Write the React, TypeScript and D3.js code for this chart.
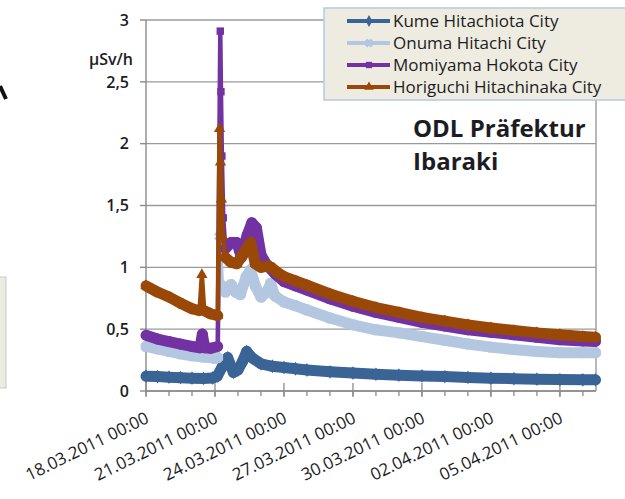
import React from "react";
import * as d3 from "d3";

const SERIES_NAMES = [
  "Kume Hitachiota City",
  "Onuma Hitachi City",
  "Momiyama Hokota City",
  "Horiguchi Hitachinaka City",
];
const SERIES_COLORS = ["#3a6496", "#b4c7e0", "#7232a2", "#9a4808"];

// [days since 18.03.2011 00:00, µSv/h]
const kume: [number, number][] = [
  [0, 0.12], [0.5, 0.117], [1, 0.112], [1.5, 0.108], [2, 0.104], [2.5, 0.102], [2.9, 0.105],
  [3.1, 0.12], [3.3, 0.19], [3.55, 0.27], [3.8, 0.15], [4.0, 0.17], [4.2, 0.24], [4.38, 0.32],
  [4.6, 0.27], [5.0, 0.22], [5.5, 0.2], [6, 0.19], [6.5, 0.18], [7, 0.17], [8, 0.155], [9, 0.145],
  [10, 0.135], [11, 0.128], [12, 0.122], [13, 0.117], [14, 0.11], [15, 0.104], [16, 0.1],
  [17, 0.096], [18, 0.092], [19, 0.09], [19.55, 0.09],
];
const onuma: [number, number][] = [
  [0, 0.36], [0.5, 0.34], [1, 0.32], [1.5, 0.3], [2, 0.285], [2.5, 0.275], [3.0, 0.265],
  [3.12, 0.27], [3.2, 1.25], [3.3, 0.85], [3.45, 0.8], [3.7, 0.86], [3.9, 0.8], [4.1, 0.78],
  [4.35, 0.92], [4.55, 0.98], [4.75, 0.85], [5.0, 0.76], [5.25, 0.8], [5.42, 0.87], [5.6, 0.77],
  [6, 0.72], [6.5, 0.69], [7, 0.655], [8, 0.59], [9, 0.535], [10, 0.495], [11, 0.47], [12, 0.44],
  [13, 0.41], [14, 0.38], [15, 0.355], [16, 0.335], [17, 0.32], [18, 0.31], [19, 0.31], [19.55, 0.31],
];
const momiyama: [number, number][] = [
  [0, 0.45], [0.5, 0.42], [1, 0.4], [1.5, 0.38], [2, 0.36], [2.35, 0.35], [2.45, 0.46], [2.55, 0.35],
  [2.8, 0.345], [3.12, 0.36], [3.23, 2.91], [3.26, 2.42], [3.3, 1.9], [3.36, 1.4], [3.45, 1.15],
  [3.7, 1.2], [3.95, 1.2], [4.15, 1.08], [4.4, 1.26], [4.6, 1.36], [4.8, 1.32], [5.0, 1.1],
  [5.25, 1.02], [5.6, 0.95], [6, 0.885], [6.5, 0.85], [7, 0.815], [8, 0.745], [9, 0.685],
  [10, 0.635], [11, 0.595], [12, 0.555], [13, 0.525], [14, 0.495], [15, 0.475], [16, 0.455],
  [17, 0.435], [18, 0.415], [19, 0.405], [19.55, 0.4],
];
const horiguchi: [number, number][] = [
  [0, 0.85], [0.5, 0.8], [1, 0.76], [1.5, 0.71], [2, 0.665], [2.33, 0.65], [2.43, 0.94], [2.53, 0.65],
  [2.8, 0.625], [3.12, 0.61], [3.2, 2.12], [3.24, 1.85], [3.28, 1.55], [3.33, 1.25], [3.45, 1.08],
  [3.7, 1.04], [3.95, 1.03], [4.2, 1.1], [4.4, 1.16], [4.55, 1.2], [4.75, 1.03], [5.0, 1.0],
  [5.3, 1.01], [5.45, 1.0], [5.7, 0.96], [6, 0.925], [6.5, 0.89], [7, 0.855], [8, 0.785],
  [9, 0.725], [10, 0.675], [11, 0.635], [12, 0.595], [13, 0.565], [14, 0.535], [15, 0.51],
  [16, 0.49], [17, 0.47], [18, 0.455], [19, 0.44], [19.55, 0.435],
];
const SERIES_DATA = [kume, onuma, momiyama, horiguchi];
const SYMBOLS = [d3.symbolDiamond, d3.symbolCross, d3.symbolSquare, d3.symbolTriangle];

const Y_TICKS = [0, 0.5, 1, 1.5, 2, 2.5, 3];
const X_TICK_DAYS = [0, 3, 6, 9, 12, 15, 18];
const TITLE_LINES = ["ODL Präfektur", "Ibaraki"];
const Y_UNIT = "µSv/h";
const START = Date.UTC(2011, 2, 18);
const END_DAYS = 19.57;
const DAY = 86400000;

const toDate = (d: number) => new Date(START + d * DAY);
const locale = d3.formatLocale({ decimal: ",", thousands: ".", grouping: [3], currency: ["", "€"] });
const fmtY = locale.format("~g");
const fmtX = d3.utcFormat("%d.%m.%Y %H:%M");

const FONT = "'Open Sans', 'DejaVu Sans', sans-serif";
const TEXT = "#1c1c24";

export default function App() {
  const W = 625, H = 499;
  const left = 146, right = 596, top = 20, bottom = 391;
  const x = d3.scaleUtc().domain([toDate(0), toDate(END_DAYS)]).range([left, right]);
  const y = d3.scaleLinear().domain([0, 3]).range([bottom, top]);

  const majorTicks = X_TICK_DAYS.map(toDate);
  const minorTicks = d3.utcDay.range(toDate(0), toDate(END_DAYS));

  const line = d3.line<[number, number]>().x((d) => x(toDate(d[0]))).y((d) => y(d[1]));

  return (
    <svg width={W} height={H} style={{ position: "absolute", left: 0, top: 0, background: "#fff" }}
      fontFamily={FONT}>
      <rect x={0} y={0} width={W} height={H} fill="#fff" />
      {/* left-edge fragments */}
      <line x1={0} y1={86} x2={6} y2={99} stroke="#111" strokeWidth={4} />
      <rect x={-2} y={277} width={8} height={111} fill="#eeece1" stroke="#c9c9c9" strokeWidth={1} />

      {/* gridlines */}
      {Y_TICKS.map((t) => (
        <line key={t} x1={left} x2={right} y1={y(t)} y2={y(t)} stroke="#9a9a9a" strokeWidth={1.4} />
      ))}
      <line x1={right} x2={right} y1={top} y2={bottom} stroke="#9a9a9a" strokeWidth={1.4} />
      {/* y axis */}
      <line x1={left} x2={left} y1={top} y2={bottom + 1} stroke="#8a8a8a" strokeWidth={1.4} />
      {Y_TICKS.map((t) => (
        <g key={"yt" + t}>
          <line x1={left - 6} x2={left} y1={y(t)} y2={y(t)} stroke="#8a8a8a" strokeWidth={1.4} />
          <text x={129} y={y(t)} dy="0.36em" textAnchor="end" fontSize={16} fontWeight={600} fill={TEXT}>
            {fmtY(t)}
          </text>
        </g>
      ))}
      <text x={133} y={65} textAnchor="end" fontSize={16} fontWeight={600} fill={TEXT}>{Y_UNIT}</text>

      {/* x axis */}
      <line x1={left} x2={right} y1={bottom} y2={bottom} stroke="#8a8a8a" strokeWidth={1.4} />
      {minorTicks.map((d, i) => (
        <line key={"mn" + i} x1={x(d)} x2={x(d)} y1={bottom} y2={bottom + 5} stroke="#8a8a8a" strokeWidth={1.3} />
      ))}
      {majorTicks.map((d, i) => (
        <line key={"mj" + i} x1={x(d)} x2={x(d)} y1={bottom - 8} y2={bottom + 6} stroke="#8a8a8a" strokeWidth={1.3} />
      ))}
      {majorTicks.map((d, i) => (
        <text key={"xl" + i} transform={`translate(${x(d) + 4},${bottom + 31}) rotate(-26)`}
          textAnchor="end" fontSize={17} fill={TEXT}>
          {fmtX(d)}
        </text>
      ))}

      {/* series */}
      {SERIES_DATA.map((data, si) => {
        const pts = data.map((d) => [x(toDate(d[0])), y(d[1])]);
        const color = SERIES_COLORS[si];
        const sym = d3.symbol().type(SYMBOLS[si]).size(si === 1 ? 45 : 55);
        return (
          <g key={si}>
            <path d={line(data) || ""} fill="none" stroke={color} strokeWidth={4.5}
              strokeLinejoin="round" strokeLinecap="round" />
            {pts.slice(1).map((p, i) => {
              const p0 = pts[i];
              const dx = Math.abs(p[0] - p0[0]), dy = Math.abs(p[1] - p0[1]);
              if (dy > 6 * dx) return null;
              return (
                <line key={i} x1={p0[0]} y1={p0[1]} x2={p[0]} y2={p[1]} stroke={color}
                  strokeWidth={11} strokeLinecap="round" />
              );
            })}
            {pts.map((p, i) => (
              <path key={"m" + i} d={sym() || ""} transform={`translate(${p[0]},${p[1]})${si === 1 ? " rotate(45)" : ""}`}
                fill={color} stroke={color} strokeWidth={si === 1 ? 2 : 0} />
            ))}
          </g>
        );
      })}

      {/* legend */}
      <rect x={324} y={8} width={310} height={92} fill="#eeece1" stroke="#b7c9e2" strokeWidth={1.5} />
      {SERIES_NAMES.map((name, i) => {
        const ly = 21 + i * 22;
        const sym = d3.symbol().type(SYMBOLS[i]).size(i === 1 ? 30 : 40);
        return (
          <g key={name}>
            <line x1={347} x2={390} y1={ly} y2={ly} stroke={SERIES_COLORS[i]} strokeWidth={4} />
            <path d={sym() || ""} transform={`translate(369,${ly})${i === 1 ? " rotate(45)" : ""}`}
              fill={SERIES_COLORS[i]} stroke={SERIES_COLORS[i]} strokeWidth={i === 1 ? 1.5 : 0} />
            <text x={393} y={ly} dy="0.36em" fontSize={17} fill={TEXT}>{name}</text>
          </g>
        );
      })}

      {/* title */}
      {TITLE_LINES.map((t, i) => (
        <text key={t} x={413} y={137 + i * 33} fontSize={24} fontWeight={700} fill={TEXT}>{t}</text>
      ))}
    </svg>
  );
}
